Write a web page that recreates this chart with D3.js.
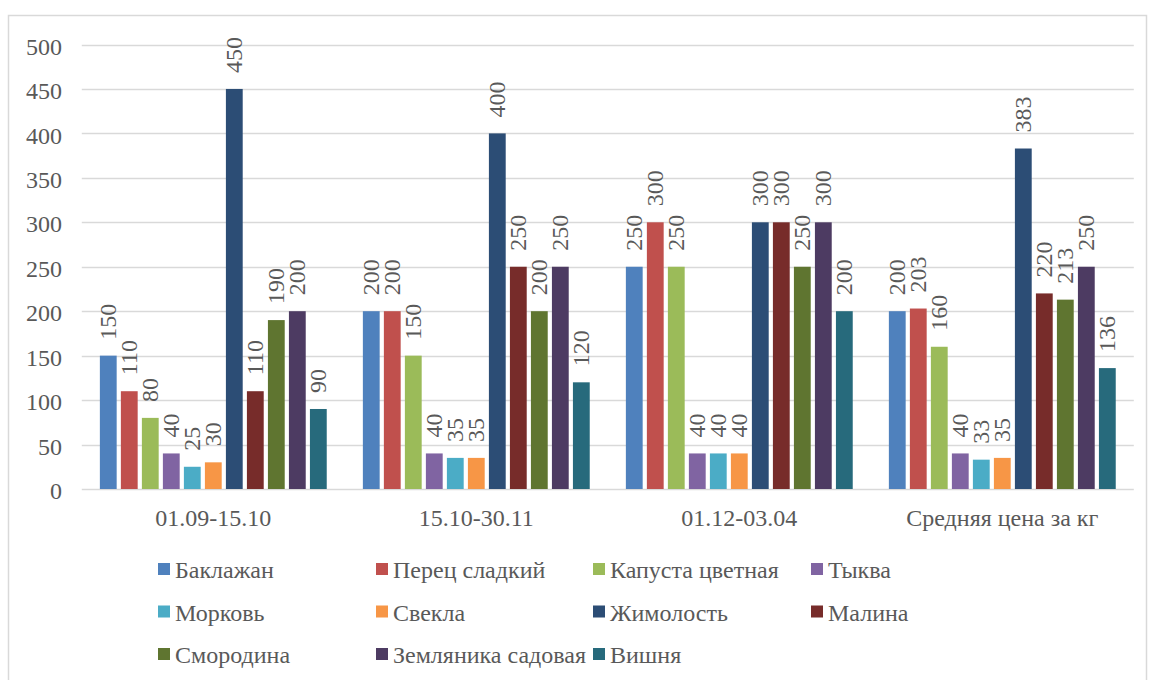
<!DOCTYPE html>
<html>
<head>
<meta charset="utf-8">
<script src="https://cdn.jsdelivr.net/npm/d3@7"></script>
</head>
<body style="margin:0;background:#fff">
<svg id="chart" width="1151" height="680" style="display:block"></svg>
<script>
// Price periods (x categories)
const categories = ["01.09-15.10", "15.10-30.11", "01.12-03.04", "Средняя цена за кг"];

// Crops, in legend / bar order
const seriesNames = [
  "Баклажан", "Перец сладкий", "Капуста цветная", "Тыква",
  "Морковь", "Свекла", "Жимолость", "Малина",
  "Смородина", "Земляника садовая", "Вишня"
];

// Price per kg for each crop, one value per period
const baklazhan   = [150, 200, 250, 200];
const perets      = [110, 200, 300, 203];
const kapusta     = [80, 150, 250, 160];
const tykva       = [40, 40, 40, 40];
const morkov      = [25, 35, 40, 33];
const svekla      = [30, 35, 40, 35];
const zhimolost   = [450, 400, 300, 383];
const malina      = [110, 250, 300, 220];
const smorodina   = [190, 200, 250, 213];
const zemlyanika  = [200, 250, 300, 250];
const vishnya     = [90, 120, 200, 136];

const yTicks = [0, 50, 100, 150, 200, 250, 300, 350, 400, 450, 500];

const seriesValues = [baklazhan, perets, kapusta, tykva, morkov, svekla,
                      zhimolost, malina, smorodina, zemlyanika, vishnya];

const colors = ["#4F81BD", "#C0504D", "#9BBB59", "#8064A2", "#4BACC6", "#F79646",
                "#2C4D75", "#772C2A", "#5F7530", "#4D3B62", "#276A7C"];

const textColor = "#595959";
const gridColor = "#d9d9d9";
const fontFamily = "\"Liberation Serif\"";

// shared text styling
function styleText(sel) {
  return sel.style("font-family", fontFamily)
    .style("font-size", "24px")
    .style("fill", textColor);
}

const svg = d3.select("#chart");

// chart frame
svg.append("rect")
  .attr("x", 8.5).attr("y", 15.5)
  .attr("width", 1138).attr("height", 680)
  .attr("fill", "none").attr("stroke", gridColor).attr("stroke-width", 1.5);

const plotLeft = 81.8, plotRight = 1133.8, plotTop = 44.5, plotBottom = 489;

const y = d3.scaleLinear().domain([0, 500]).range([plotBottom, plotTop]);
const x0 = d3.scaleBand().domain(categories).range([plotLeft, plotRight]).padding(0);
const x1 = d3.scaleBand().domain(seriesNames).range([0, x0.bandwidth()])
  .paddingInner(0.2).paddingOuter(0.86);

// gridlines
svg.append("g").selectAll("line").data(yTicks).join("line")
  .attr("x1", plotLeft).attr("x2", plotRight)
  .attr("y1", d => Math.round(y(d)) + 0.5).attr("y2", d => Math.round(y(d)) + 0.5)
  .attr("stroke", gridColor).attr("stroke-width", 1.3);

// y axis labels
const yAxis = d3.axisLeft(y).tickValues(yTicks).tickSize(0).tickPadding(0);
const yg = svg.append("g").attr("transform", "translate(62,0)").call(yAxis);
yg.select(".domain").remove();
styleText(yg.selectAll("text")).attr("dy", "0.4em");

// x axis labels
const xAxis = d3.axisBottom(x0).tickSize(0).tickPadding(0);
const xg = svg.append("g").attr("transform", `translate(0,${plotBottom})`).call(xAxis);
xg.select(".domain").remove();
styleText(xg.selectAll("text")).attr("dy", "1.55em").attr("y", 0);

// bars
const rows = [];
categories.forEach((c, ci) => {
  seriesNames.forEach((s, si) => {
    rows.push({ cat: c, series: s, value: seriesValues[si][ci], color: colors[si] });
  });
});

svg.append("g").selectAll("rect").data(rows).join("rect")
  .attr("x", d => x0(d.cat) + x1(d.series))
  .attr("y", d => y(d.value))
  .attr("width", x1.bandwidth())
  .attr("height", d => y(0) - y(d.value))
  .attr("fill", d => d.color);

// value labels, rotated, above each bar
styleText(svg.append("g").selectAll("text").data(rows).join("text"))
  .attr("transform", d => {
    const cx = x0(d.cat) + x1(d.series) + x1.bandwidth() / 2 + 8;
    const ty = y(d.value) - 16;
    return `translate(${cx},${ty}) rotate(-90)`;
  })
  .attr("text-anchor", "start")
  .text(d => d.value);

// legend
const legendCols = [158, 376, 593, 811];
const legendRows = [578, 620.5, 663];
const lg = svg.append("g").selectAll("g").data(seriesNames).join("g")
  .attr("transform", (d, i) => `translate(${legendCols[i % 4]},${legendRows[Math.floor(i / 4)]})`);
lg.append("rect")
  .attr("x", 0).attr("y", -15).attr("width", 12).attr("height", 12)
  .attr("fill", (d, i) => colors[i]);
styleText(lg.append("text"))
  .attr("x", 17).attr("y", 0)
  .text(d => d);
</script>
</body>
</html>
